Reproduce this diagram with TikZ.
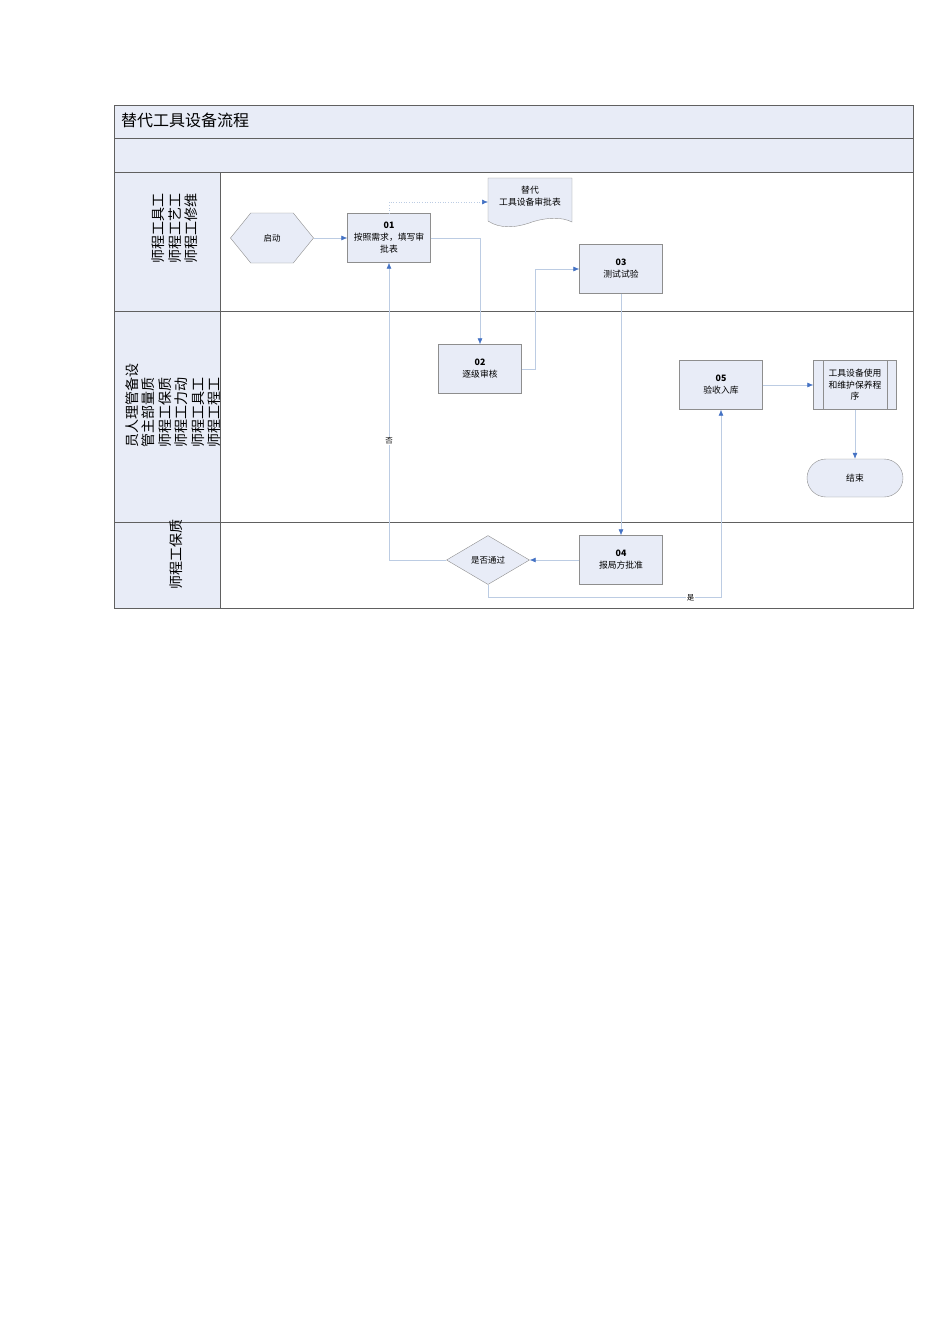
\documentclass[tikz,border=0pt]{standalone}
\usepackage{fontspec}
\setmainfont{Noto Sans CJK SC}
\usepackage{tikz}
\usetikzlibrary{positioning, arrows.meta, shapes.geometric, shapes.symbols}

\definecolor{lanefill}{HTML}{E8ECF7}
\definecolor{boxline}{HTML}{8E8E8E}
\definecolor{frameline}{HTML}{606060}
\definecolor{linkline}{HTML}{BCCCE3}
\definecolor{tipblue}{HTML}{4472C4}

\tikzset{
  frame/.style={draw=frameline, line width=0.8pt},
  lanetext/.style={rotate=90, align=left, inner sep=0pt, font=\fontsize{14}{16.5}\selectfont},
  stepbox/.style={draw=boxline, fill=lanefill, minimum width=83pt, minimum height=49pt,
    align=center, inner sep=1pt, font=\fontsize{8.8}{12}\selectfont},
  flow/.style={draw=linkline, line width=0.6pt, -{Latex[length=6pt,width=5pt,color=tipblue]}},
  tag/.style={fill=white, inner sep=1pt, font=\fontsize{7.5}{8}\selectfont}
}

\begin{document}
\begin{tikzpicture}[x=1pt, y=-1pt]
\useasboundingbox (0,0) rectangle (950,1344);

% Pool and lanes
\fill[lanefill] (114,105) rectangle (913,172);
\fill[lanefill] (114,172) rectangle (220,608);
\draw[frame] (114,105) rectangle (913,608);
\foreach \y in {138,172,311,522}{
  \draw[frame] (114,\y) -- (913,\y);
}
\draw[frame] (220,172) -- (220,608);

\node[anchor=west, inner sep=0pt, font=\fontsize{16}{18}\selectfont] (title) at (121,120) {替代工具设备流程};

% Lane labels
\node[lanetext] (lane1) at (175,228) {师程工具工\\师程工艺工\\师程工修维};
\node[lanetext] (lane2) at (173,405) {员人理管备设\\管主部量质\\师程工保质\\师程工力动\\师程工具工\\师程工程工};
\node[lanetext] (lane3) at (176,554) {师程工保质};

% Document shape
\draw[draw=boxline, fill=lanefill]
  (488,178) -- (572,178) -- (572,222)
  .. controls (562,217) and (548,217) .. (532,222)
  .. controls (516,228) and (500,229) .. (488,221) -- cycle;
\node[align=center, font=\fontsize{8.8}{12}\selectfont] (form) at (530,196) {替代\\工具设备审批表};
\coordinate (formin) at (488,202);

% Steps
\node[signal, signal to=west and east, signal pointer angle=102, draw=boxline, fill=lanefill,
  minimum width=83pt, minimum height=50pt, inner sep=1pt, font=\fontsize{8.5}{9}\selectfont] (start) at (272,238) {启动};
\node[stepbox] (s01) at (389,238) {\textbf{01}\\按照需求，填写审\\批表};
\node[stepbox] (s02) at (480,369) {\textbf{02}\\逐级审核};
\node[stepbox] (s03) at (621,269) {\textbf{03}\\测试试验};
\node[stepbox] (s04) at (621,560) {\textbf{04}\\报局方批准};
\node[stepbox] (s05) at (721,385) {\textbf{05}\\验收入库};
\node[diamond, aspect=1.7, draw=boxline, fill=lanefill, minimum width=83pt, minimum height=49pt,
  inner sep=1pt, font=\fontsize{8.5}{9}\selectfont] (check) at (488,560) {是否通过};
\node[stepbox, font=\fontsize{8.8}{11.5}\selectfont] (proc) at (855,385) {工具设备使用\\和维护保养程\\序};
\draw[boxline] ([xshift=10pt]proc.north west) -- ([xshift=10pt]proc.south west);
\draw[boxline] ([xshift=-10pt]proc.north east) -- ([xshift=-10pt]proc.south east);
\node[stepbox, rounded corners=19pt, minimum width=96pt, minimum height=38pt] (stop) at (855,478) {结束};

% Connectors
\draw[flow] (start.east) -- (s01.west);
\draw[flow, dotted] (s01.north) |- (formin);
\draw[flow] (s01.east) -| (s02.north);
\draw[flow] (s02.east) -- ++(14,0) |- (s03.west);
\draw[flow] (s03.south) -- (s04.north);
\draw[flow] (s04.west) -- (check.east);
\draw[flow] (check.west) -| (s01.south) node[tag, pos=0.7] {否};
\draw[flow] (check.south) -- ++(0,13) -| (s05.south) node[tag, pos=0.435] {是};
\draw[flow] (s05.east) -- (proc.west);
\draw[flow] (proc.south) -- (stop.north);
\end{tikzpicture}
\end{document}
